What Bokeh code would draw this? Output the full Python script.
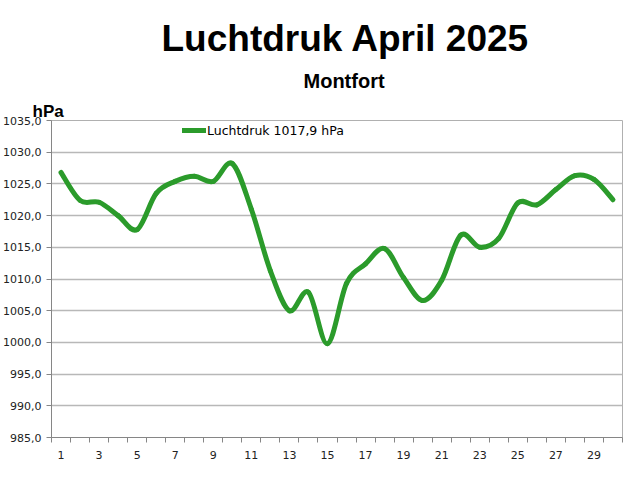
from bokeh.plotting import figure
from bokeh.models import FixedTicker, Legend, LegendItem, ColumnDataSource, Range1d, Title
from bokeh.embed import file_html
from bokeh.resources import INLINE

# ---- data ----
days = list(range(1, 31))
pressure = [1026.8, 1022.4, 1022.1, 1020.0, 1017.8, 1023.5, 1025.4, 1026.2, 1025.4, 1028.2,
            1021.0, 1011.3, 1005.0, 1007.9, 999.8, 1009.3, 1012.4, 1014.8, 1010.2, 1006.6,
            1009.8, 1016.9, 1015.0, 1016.4, 1022.0, 1021.7, 1024.1, 1026.3, 1025.7, 1022.5]
x_tick_days = list(range(1, 30, 2))
y_ticks = [985, 990, 995, 1000, 1005, 1010, 1015, 1020, 1025, 1030, 1035]
y_tick_labels = ["985,0", "990,0", "995,0", "1000,0", "1005,0", "1010,0", "1015,0",
                 "1020,0", "1025,0", "1030,0", "1035,0"]
title_text = "Luchtdruk April 2025"
subtitle_text = "Montfort"
unit_text = "hPa"
legend_text = "Luchtdruk 1017,9 hPa"

GREEN = "#2b9b2b"
TITLE_FONT = "Liberation Sans"

p = figure(width=624, height=464, output_backend="svg", toolbar_location=None,
           x_range=Range1d(0.5, 30.5), y_range=Range1d(985, 1035),
           min_border_left=50, min_border_right=2, min_border_top=120, min_border_bottom=27)
p.background_fill_color = "white"
p.border_fill_color = "white"
p.outline_line_color = "#b0b0b0"

# smoothed line (Excel-like) via cubic bezier segments built from the data
n = len(days)
x0, y0, x1, y1, cx0, cy0, cx1, cy1 = [], [], [], [], [], [], [], []
for i in range(n - 1):
    im = max(i - 1, 0)
    ip2 = min(i + 2, n - 1)
    x0.append(days[i]); y0.append(pressure[i])
    x1.append(days[i + 1]); y1.append(pressure[i + 1])
    cx0.append(days[i] + (days[i + 1] - days[im]) / 6.0)
    cy0.append(pressure[i] + (pressure[i + 1] - pressure[im]) / 6.0)
    cx1.append(days[i + 1] - (days[ip2] - days[i]) / 6.0)
    cy1.append(pressure[i + 1] - (pressure[ip2] - pressure[i]) / 6.0)
src = ColumnDataSource(dict(x0=x0, y0=y0, x1=x1, y1=y1, cx0=cx0, cy0=cy0, cx1=cx1, cy1=cy1))
bez = p.bezier(x0="x0", y0="y0", x1="x1", y1="y1", cx0="cx0", cy0="cy0", cx1="cx1", cy1="cy1",
               source=src, line_color=GREEN, line_width=5, line_cap="round")

legend = Legend(items=[LegendItem(label=legend_text, renderers=[bez])],
                location=(131, 297), padding=0, margin=0, spacing=0,
                glyph_width=24, glyph_height=20, label_standoff=1,
                border_line_color=None, background_fill_alpha=0,
                label_text_font="DejaVu Sans", label_text_font_size="12.5px",
                label_text_color="black")
p.add_layout(legend, "center")

# axes
p.xgrid.grid_line_color = None
p.ygrid.grid_line_color = "#b8b8b8"
p.ygrid.grid_line_width = 1.5
p.ygrid.ticker = FixedTicker(ticks=y_ticks)

xa = p.xaxis[0]
xa.ticker = FixedTicker(ticks=x_tick_days, minor_ticks=[d + 0.5 for d in [0] + days])
xa.major_tick_line_color = None
xa.major_tick_out = 0
xa.major_tick_in = 0
xa.minor_tick_out = 5
xa.minor_tick_in = 0
xa.minor_tick_line_color = "#868686"
xa.axis_line_color = "#868686"
xa.major_label_text_font = "DejaVu Sans"
xa.major_label_text_font_size = "11px"
xa.major_label_text_color = "#222222"
xa.major_label_standoff = 8

ya = p.yaxis[0]
ya.ticker = FixedTicker(ticks=y_ticks)
ya.major_label_overrides = {t: l for t, l in zip(y_ticks, y_tick_labels)}
ya.minor_tick_line_color = None
ya.major_tick_out = 5
ya.major_tick_in = 0
ya.major_tick_line_color = "#868686"
ya.axis_line_color = "#868686"
ya.major_label_text_font = "DejaVu Sans"
ya.major_label_text_font_size = "11px"
ya.major_label_text_color = "#222222"
ya.major_label_standoff = 5

# titles (first added = closest to the plot frame)
p.add_layout(Title(text=unit_text, align="left", offset=-19, standoff=0,
                   text_font=TITLE_FONT, text_font_style="bold", text_font_size="17px",
                   text_color="black"), "above")
p.add_layout(Title(text=subtitle_text, align="left", offset=252, standoff=11,
                   vertical_align="top",
                   text_font=TITLE_FONT, text_font_style="bold", text_font_size="20px",
                   text_color="black"), "above")
p.add_layout(Title(text=title_text, align="left", offset=110, standoff=11,
                   text_font=TITLE_FONT, text_font_style="bold", text_font_size="37px",
                   text_color="black"), "above")

open("out.html", "w").write(file_html(p, INLINE))
